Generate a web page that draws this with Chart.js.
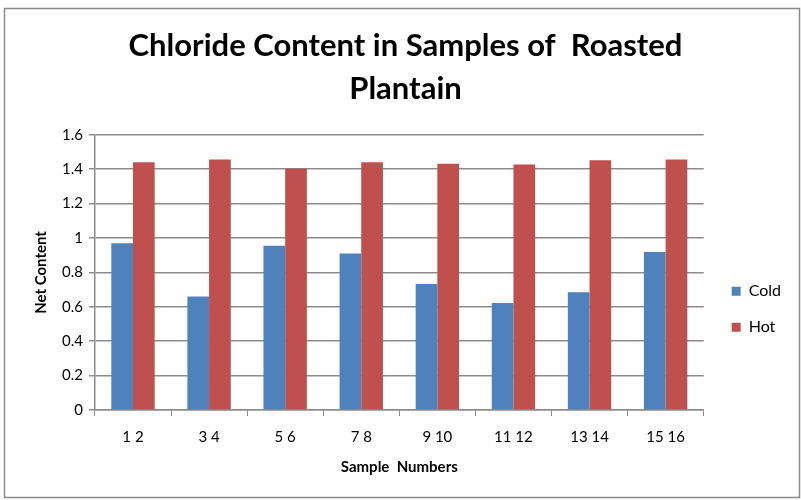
<!DOCTYPE html>
<html>
<head>
<meta charset="utf-8">
<script src="https://cdn.jsdelivr.net/npm/chart.js@4"></script>
<style>
  html, body { margin: 0; padding: 0; background: #fff; }
</style>
</head>
<body>
<canvas id="canvas" width="801" height="500"></canvas>
<script>
// chart data
const samples = ['1 2', '3 4', '5 6', '7 8', '9 10', '11 12', '13 14', '15 16'];
const cold = [0.97, 0.66, 0.955, 0.91, 0.733, 0.622, 0.684, 0.918];
const hot = [1.44, 1.456, 1.404, 1.44, 1.432, 1.428, 1.452, 1.456];

const FONT = "Lato, 'Open Sans', sans-serif";
const GRID = '#8c8c8c';

// outer frame round the whole chart
const frame = {
  id: 'frame',
  beforeDraw(chart) {
    const ctx = chart.ctx;
    ctx.save();
    ctx.fillStyle = '#fff';
    ctx.fillRect(0, 0, chart.width, chart.height);
    ctx.strokeStyle = '#8a8a8a';
    ctx.lineWidth = 1.5;
    ctx.strokeRect(4.5, 8.5, chart.width - 6, chart.height - 11);
    ctx.restore();
  },
  // nudge the legend a little to the right of the plot
  afterLayout(chart) {
    if (chart.legend) {
      chart.legend.left += 8;
      chart.legend.right += 8;
    }
  }
};

let ctx = document.getElementById('canvas').getContext('2d');
let chart = new Chart(ctx, {
  type: 'bar',
  data: {
    labels: samples,
    datasets: [
      { label: 'Cold', data: cold, backgroundColor: '#4f81bd' },
      { label: 'Hot', data: hot, backgroundColor: '#c0504d' }
    ]
  },
  options: {
    responsive: false,
    animation: false,
    layout: { padding: { left: 28, right: 18, top: 24, bottom: 20 } },
    datasets: {
      bar: { categoryPercentage: 0.57, barPercentage: 1.0 }
    },
    plugins: {
      title: {
        display: true,
        text: ['Chloride Content in Samples of  Roasted', 'Plantain'],
        color: '#000',
        font: { family: FONT, size: 31, weight: 'bold', lineHeight: 1.4 },
        padding: { top: 0, bottom: 24 }
      },
      legend: {
        position: 'right',
        title: { display: true, text: ' ', padding: { top: 100, bottom: 0 } },
        labels: {
          color: '#000',
          boxWidth: 9,
          boxHeight: 9,
          padding: 20,
          font: { family: FONT, size: 16 }
        }
      },
      tooltip: { enabled: false }
    },
    scales: {
      x: {
        grid: {
          offset: true,
          drawOnChartArea: false,
          drawTicks: true,
          tickLength: 6,
          color: GRID
        },
        border: { color: GRID, width: 1.5 },
        ticks: { color: '#000', font: { family: FONT, size: 15 }, padding: 12 },
        title: {
          display: true,
          text: 'Sample  Numbers',
          color: '#000',
          font: { family: FONT, size: 15, weight: 'bold' },
          padding: { top: 0 }
        }
      },
      y: {
        min: 0,
        max: 1.6,
        ticks: {
          stepSize: 0.2,
          color: '#000',
          font: { family: FONT, size: 15 },
          padding: 6,
          callback: v => String(Number(v.toFixed(1)))
        },
        grid: { color: GRID, lineWidth: 1.5, tickLength: 6 },
        border: { color: GRID, width: 1.5 },
        title: {
          display: true,
          text: 'Net Content',
          color: '#000',
          font: { family: FONT, size: 15, weight: 'bold' },
          padding: { bottom: 6 }
        }
      }
    }
  },
  plugins: [frame]
});
</script>
</body>
</html>
